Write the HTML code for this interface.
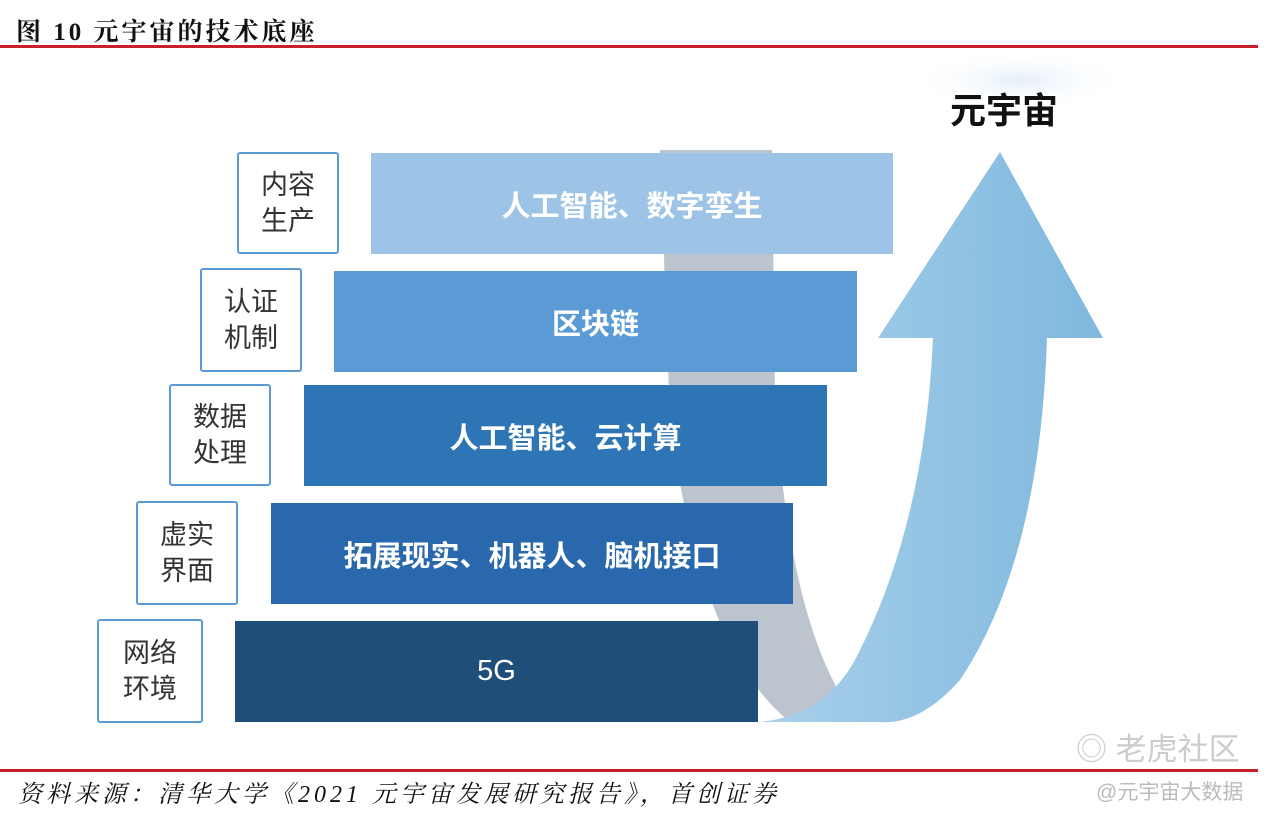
<!DOCTYPE html>
<html><head><meta charset="utf-8"><style>
body{margin:0;width:1280px;height:818px;background:#fff;position:relative;overflow:hidden;font-family:"Liberation Sans","Noto Sans CJK SC",sans-serif}
.a{position:absolute}
.bar{position:absolute;color:#fff;font-size:29px;font-weight:bold;display:flex;align-items:center;justify-content:center}
.lb{position:absolute;border:2px solid #5b9bd5;background:#fff;box-sizing:border-box;font-size:27px;color:#333;display:flex;align-items:center;justify-content:center;text-align:center;line-height:36px;border-radius:3px}
</style></head><body>
<div class="a" style="left:16px;top:12px;font-size:25px;letter-spacing:3px;font-family:'Liberation Serif','Noto Serif CJK SC',serif;color:#111;font-weight:bold">图 10 元宇宙的技术底座</div>
<div class="a" style="left:0;top:45px;width:1258px;height:3px;background:#c8202a"></div>
<svg class="a" style="left:0;top:0" width="1280" height="818">
<defs>
<linearGradient id="g" x1="0" y1="0" x2="1" y2="0"><stop offset="0" stop-color="#a8d0ea"/><stop offset="1" stop-color="#7fb8de"/></linearGradient>
<radialGradient id="c" cx="0.5" cy="0.5" r="0.5"><stop offset="0" stop-color="#e4eff9"/><stop offset="1" stop-color="#fff" stop-opacity="0"/></radialGradient>
</defs>
<ellipse cx="1020" cy="80" rx="110" ry="30" fill="url(#c)"/>
<path d="M660 150 L772 150 L775 400 Q790 640 860 722 L790 722 Q700 650 670 420 Z" fill="#bcc4cd"/>
<path d="M1000 152 L1103 338 L1047 338 Q1040 560 960 680 Q920 725 880 722 L760 722 Q830 715 860 650 Q925 520 933 338 L878 338 Z" fill="url(#g)"/>
</svg>
<div class="a" style="left:950px;top:82px;font-size:36px;font-weight:bold;color:#111">元宇宙</div>
<div class="bar" style="left:371px;top:153px;width:522px;height:101px;background:#9dc3e6">人工智能、数字孪生</div>
<div class="bar" style="left:334px;top:271px;width:523px;height:101px;background:#5b9bd5">区块链</div>
<div class="bar" style="left:304px;top:385px;width:523px;height:101px;background:#2e75b6">人工智能、云计算</div>
<div class="bar" style="left:271px;top:503px;width:522px;height:101px;background:#2a68ad">拓展现实、机器人、脑机接口</div>
<div class="bar" style="left:235px;top:621px;width:523px;height:101px;background:#1f4e79;font-weight:normal">5G</div>
<div class="lb" style="left:237px;top:152px;width:102px;height:102px">内容<br>生产</div>
<div class="lb" style="left:200px;top:268px;width:102px;height:104px">认证<br>机制</div>
<div class="lb" style="left:169px;top:384px;width:102px;height:102px">数据<br>处理</div>
<div class="lb" style="left:136px;top:501px;width:102px;height:104px">虚实<br>界面</div>
<div class="lb" style="left:97px;top:619px;width:106px;height:104px">网络<br>环境</div>
<div class="a" style="left:1076px;top:724px;font-size:31px;color:#ccc">◎ 老虎社区</div>
<div class="a" style="left:0;top:769px;width:1258px;height:3px;background:#c8202a"></div>
<div class="a" style="left:18px;top:774px;font-size:24px;letter-spacing:4px;font-style:italic;color:#111;font-family:'Liberation Serif','Noto Serif CJK SC',serif">资料来源：清华大学《2021 元宇宙发展研究报告》，首创证券</div>
<div class="a" style="left:1096px;top:776px;font-size:21px;color:#bbb">@元宇宙大数据</div>
</body></html>
